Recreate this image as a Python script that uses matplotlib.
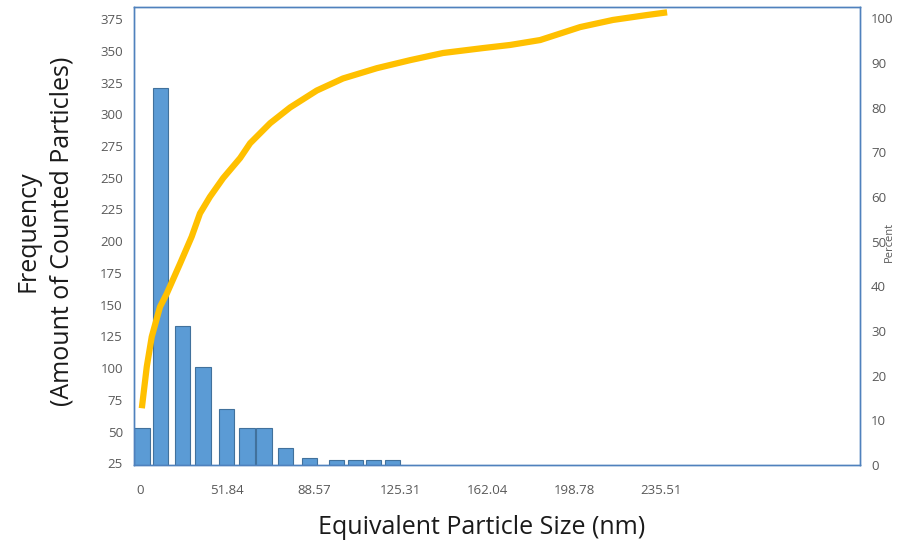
import matplotlib.pyplot as plt

plt.rcParams['font.family'] = ['Open Sans', 'DejaVu Sans']

# histogram bins (nm) and counts
bin_centers = [15.9, 23.7, 33.0, 41.7, 51.6, 60.3, 67.5, 76.6, 86.8, 98.2, 106.2, 113.8, 121.9]
counts = [53, 321, 133, 101, 68, 53, 53, 37, 29, 28, 28, 28, 28]

# cumulative percent curve
cum_x = [15.8, 17.9, 20.0, 23.5, 26.4, 32.0, 36.9, 40.4, 44.6, 50.2, 57.4, 61.6, 70.1,
         78.5, 89.8, 100.9, 115.2, 129.3, 143.2, 160.1, 171.6, 184.3, 201.2, 215.1,
         229.5, 238.0]
cum_pct = [12.7, 22.0, 28.7, 35.4, 38.4, 45.1, 51.1, 56.3, 60.0, 64.2, 68.7, 72.0, 76.5,
           80.0, 83.8, 86.5, 88.8, 90.6, 92.2, 93.3, 94.0, 95.1, 98.0, 99.6,
           100.7, 101.3]

# x tick labels
xtick_pos = [15.1, 51.84, 88.57, 125.31, 162.04, 198.78, 235.51]
xtick_labels = ['0', '51.84', '88.57', '125.31', '162.04', '198.78', '235.51']

left_ticks = list(range(25, 376, 25))
right_ticks = list(range(0, 101, 10))

spine_col = '#4F81BD'
tick_col = '#595959'

fig = plt.figure(figsize=(8.97, 5.45), dpi=100)
ax = fig.add_axes([0.1494, 0.1468, 0.8094, 0.8404])

ax.bar(bin_centers, counts, width=6.6, color='#5B9BD5', edgecolor='#41719C', linewidth=0.8, zorder=2)
ax.set_xlim(12.5, 319.6)
ax.set_ylim(23.7, 384.5)
ax.set_yticks(left_ticks)
ax.set_xticks(xtick_pos)
ax.set_xticklabels(xtick_labels)
ax.tick_params(axis='both', length=0, labelsize=9.5, colors=tick_col)
ax.tick_params(axis='x', pad=14)
ax.tick_params(axis='y', pad=8)
for s in ax.spines.values():
    s.set_color(spine_col)
    s.set_linewidth(1.0)

ax2 = ax.twinx()
ax2.plot(cum_x, cum_pct, color='#FFC000', linewidth=4.5, solid_capstyle='butt',
         solid_joinstyle='round', zorder=3)
ax2.set_ylim(0, 102.5)
ax2.set_yticks(right_ticks)
ax2.tick_params(axis='y', length=0, labelsize=9.5, colors=tick_col, pad=8)
for s in ax2.spines.values():
    s.set_color(spine_col)
    s.set_linewidth(1.0)

fig.text(0.991, 0.556, 'Percent', rotation=90, ha='center', va='center', fontsize=8, color=tick_col)

fig.text(0.537, 0.033, 'Equivalent Particle Size (nm)', ha='center', va='center', fontsize=18, color='#1a1a1a')
fig.text(0.05, 0.575, 'Frequency\n(Amount of Counted Particles)', rotation=90, ha='center', va='center',
         fontsize=18, color='#1a1a1a', linespacing=1.45)

fig.savefig('out.png', dpi=100)
